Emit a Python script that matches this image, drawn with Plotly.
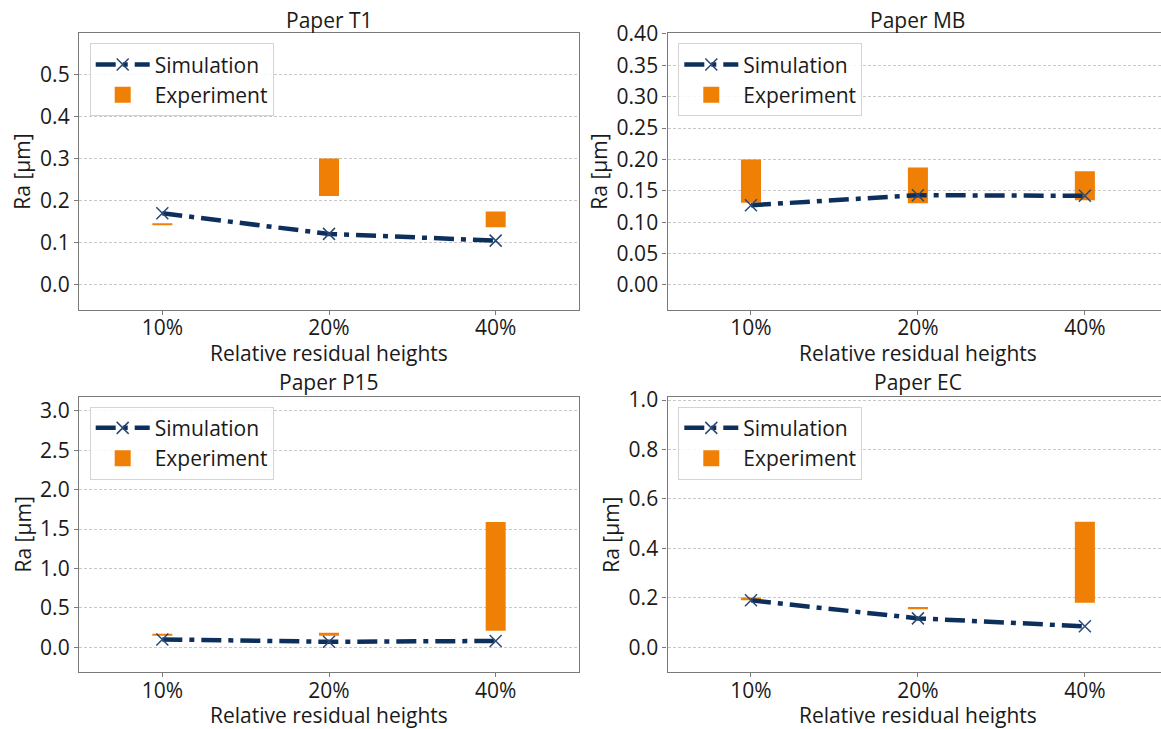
import plotly.graph_objects as go

# ---------------- data ----------------
categories = ["10%", "20%", "40%"]
panel_titles = ["Paper T1", "Paper MB", "Paper P15", "Paper EC"]

sim_t1 = [0.170, 0.121, 0.105]
exp_low_t1 = [0.143, 0.211, 0.137]
exp_high_t1 = [0.146, 0.300, 0.174]

sim_mb = [0.127, 0.143, 0.142]
exp_low_mb = [0.131, 0.130, 0.135]
exp_high_mb = [0.200, 0.187, 0.181]

sim_p15 = [0.10, 0.07, 0.08]
exp_low_p15 = [0.158, 0.148, 0.21]
exp_high_p15 = [0.172, 0.185, 1.59]

sim_ec = [0.190, 0.117, 0.085]
exp_low_ec = [0.193, 0.157, 0.180]
exp_high_ec = [0.201, 0.163, 0.508]

y_ticks_t1 = [0.0, 0.1, 0.2, 0.3, 0.4, 0.5]
y_ticks_mb = [0.0, 0.05, 0.10, 0.15, 0.20, 0.25, 0.30, 0.35, 0.40]
y_ticks_p15 = [0.0, 0.5, 1.0, 1.5, 2.0, 2.5, 3.0]
y_ticks_ec = [0.0, 0.2, 0.4, 0.6, 0.8, 1.0]

# ---------------- styling ----------------
W, H = 1161, 729
NAVY = "#0c2f5c"
ORANGE = "#f07f05"
FONT = "Open Sans"
TXT = "#1a1a1a"
FS = 21

def px_x(v):
    return v / W

def px_y(v):
    return 1 - v / H

panels = [
    dict(sim=sim_t1, lo=exp_low_t1, hi=exp_high_t1, ticks=y_ticks_t1, fmt=".1f",
         yr=[-0.06, 0.598], xd=[79, 579], yd=[33.3, 310], xr=[-0.5, 2.5],
         title_y=20, xlab_y=353, ylab_x=22, leg=(89.7, 43.3), mirror_y=True),
    dict(sim=sim_mb, lo=exp_low_mb, hi=exp_high_mb, ticks=y_ticks_mb, fmt=".2f",
         yr=[-0.04, 0.401], xd=[667.5, 1161], yd=[33.3, 310], xr=[-0.5, 2.456],
         title_y=20, xlab_y=353, ylab_x=599, leg=(678.3, 43.3), mirror_y=False,
         center=917.7),
    dict(sim=sim_p15, lo=exp_low_p15, hi=exp_high_p15, ticks=y_ticks_p15, fmt=".1f",
         yr=[-0.317, 3.178], xd=[79, 579], yd=[396.7, 672.3], xr=[-0.5, 2.5],
         title_y=381.7, xlab_y=715, ylab_x=22, leg=(89.7, 406.7), mirror_y=True),
    dict(sim=sim_ec, lo=exp_low_ec, hi=exp_high_ec, ticks=y_ticks_ec, fmt=".1f",
         yr=[-0.101, 1.011], xd=[667.5, 1161], yd=[397.3, 672.3], xr=[-0.5, 2.456],
         title_y=381.7, xlab_y=715, ylab_x=611, leg=(678.3, 406.7), mirror_y=False,
         center=917.7),
]

fig = go.Figure()
annotations = []
layout_axes = {}

for i, p in enumerate(panels):
    n = i + 1
    xa = "x" if n == 1 else f"x{n}"
    ya = "y" if n == 1 else f"y{n}"
    leg = "legend" if n == 1 else f"legend{n}"

    heights = [h - l for h, l in zip(p["hi"], p["lo"])]
    fig.add_trace(go.Bar(
        x=categories, y=heights, base=p["lo"], width=0.12,
        marker=dict(color=ORANGE, line=dict(width=0)),
        showlegend=False, xaxis=xa, yaxis=ya, hoverinfo="skip",
    ))
    fig.add_trace(go.Scatter(
        x=categories, y=p["sim"], mode="lines+markers", name="Simulation",
        line=dict(color=NAVY, width=4.5, dash="20px,7px,5px,7px"),
        marker=dict(symbol="x-thin", size=12, color=NAVY,
                    line=dict(color="#2a4a75", width=1.5)),
        xaxis=xa, yaxis=ya, legend=leg,
    ))
    # legend-only entry for the experiment range bars
    fig.add_trace(go.Scatter(
        x=[None], y=[None], mode="markers", name="Experiment",
        marker=dict(symbol="square", size=20, color=ORANGE),
        xaxis=xa, yaxis=ya, legend=leg,
    ))

    xdom = [px_x(p["xd"][0]), min(1.0, px_x(p["xd"][1]))]
    ydom = [px_y(p["yd"][1]), px_y(p["yd"][0])]
    xkey = "xaxis" if n == 1 else f"xaxis{n}"
    ykey = "yaxis" if n == 1 else f"yaxis{n}"
    layout_axes[xkey] = dict(
        domain=xdom, anchor=ya, range=p["xr"], type="category",
        categoryorder="array", categoryarray=categories, automargin=False,
        showgrid=False, zeroline=False, showline=True, mirror=True,
        linecolor="#7a7a7a", linewidth=1.3,
        ticks="outside", ticklen=4, tickcolor="#7a7a7a", ticklabelstandoff=-5,
        tickfont=dict(family=FONT, size=FS, color=TXT),
    )
    layout_axes[ykey] = dict(
        domain=ydom, anchor=xa, range=p["yr"], automargin=False,
        tickvals=p["ticks"], tickformat=p["fmt"],
        showgrid=True, gridcolor="#c8c8c8", gridwidth=1, griddash="3px,2px",
        zeroline=False, showline=True, mirror=p["mirror_y"],
        linecolor="#7a7a7a", linewidth=1.3,
        ticks="outside", ticklen=4, tickcolor="#7a7a7a",
        tickfont=dict(family=FONT, size=FS, color=TXT),
    )
    layout_axes[leg] = dict(
        x=px_x(p["leg"][0]), y=px_y(p["leg"][1]), xanchor="left", yanchor="top",
        bgcolor="rgba(255,255,255,0.85)", bordercolor="#d4d4d4", borderwidth=1,
        font=dict(family=FONT, size=FS, color=TXT), itemwidth=54,
        tracegroupgap=0,
    )

    cx = p.get("center", (p["xd"][0] + p["xd"][1]) / 2)
    annotations.append(dict(text=panel_titles[i], x=px_x(cx), y=px_y(p["title_y"]),
                            xref="paper", yref="paper", showarrow=False,
                            xanchor="center", yanchor="middle",
                            font=dict(family=FONT, size=FS, color=TXT)))
    annotations.append(dict(text="Relative residual heights", x=px_x(cx), y=px_y(p["xlab_y"]),
                            xref="paper", yref="paper", showarrow=False,
                            xanchor="center", yanchor="middle",
                            font=dict(family=FONT, size=FS, color=TXT)))
    annotations.append(dict(text="Ra [µm]", x=px_x(p["ylab_x"]),
                            y=px_y((p["yd"][0] + p["yd"][1]) / 2),
                            xref="paper", yref="paper", showarrow=False, textangle=-90,
                            xanchor="center", yanchor="middle",
                            font=dict(family=FONT, size=FS, color=TXT)))

fig.update_layout(
    width=W, height=H, margin=dict(l=0, r=0, t=0, b=0, autoexpand=False),
    paper_bgcolor="white", plot_bgcolor="white",
    barmode="overlay", annotations=annotations,
    **layout_axes,
)

fig.write_html("out.html", config={"displayModeBar": False},
               post_script="document.body.style.margin='0px';document.body.style.overflow='hidden';")
